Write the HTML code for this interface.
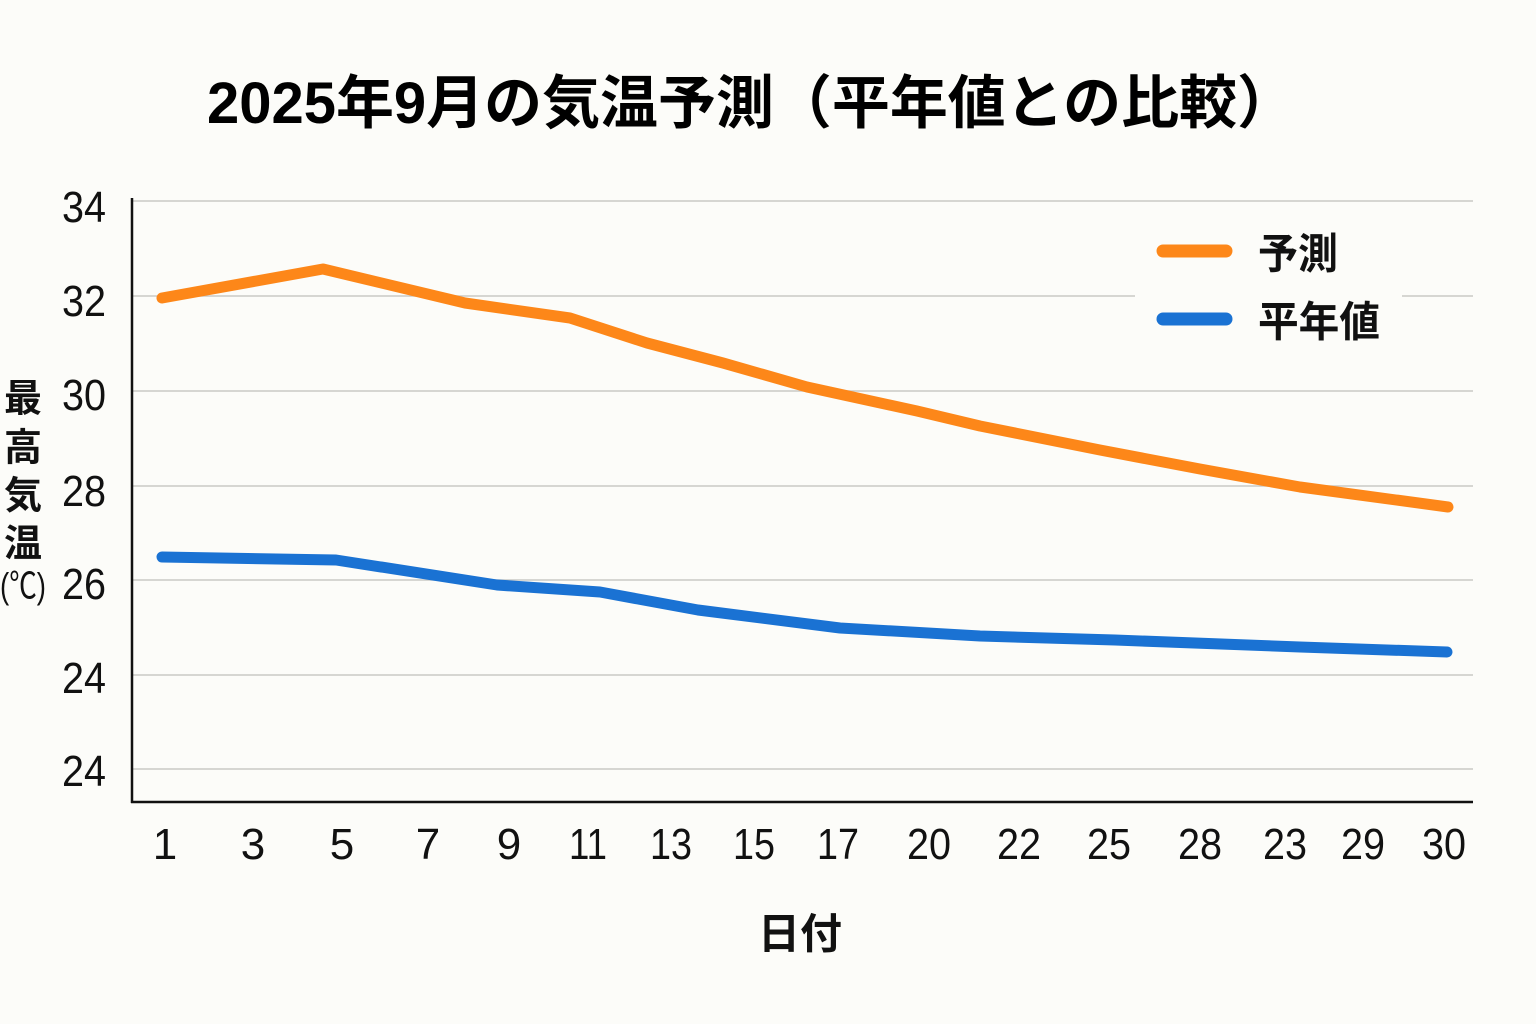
<!DOCTYPE html>
<html>
<head>
<meta charset="utf-8">
<style>
html,body{margin:0;padding:0;background:#fcfcf9;}
svg{display:block;}
</style>
</head>
<body>
<svg width="1536" height="1024" viewBox="0 0 1536 1024" xmlns="http://www.w3.org/2000/svg">
<rect x="0" y="0" width="1536" height="1024" fill="#fcfcf9"/>

<!-- Title -->
<text x="207" y="123" text-anchor="start" font-family="'Liberation Sans','Noto Sans CJK JP',sans-serif" font-weight="bold" font-size="58" fill="#000" textLength="1088" lengthAdjust="spacingAndGlyphs">2025年9月の気温予測（平年値との比較）</text>

<!-- Gridlines -->
<g stroke="#c9c9c6" stroke-width="1.6">
<line x1="133" y1="201" x2="1473" y2="201"/>
<line x1="133" y1="296" x2="1473" y2="296"/>
<line x1="133" y1="391" x2="1473" y2="391"/>
<line x1="133" y1="486" x2="1473" y2="486"/>
<line x1="133" y1="580" x2="1473" y2="580"/>
<line x1="133" y1="675" x2="1473" y2="675"/>
<line x1="133" y1="769" x2="1473" y2="769"/>
</g>

<!-- Legend background -->
<rect x="1135" y="212" width="267" height="135" fill="#fcfcf9"/>

<!-- Axes -->
<line x1="132" y1="198" x2="132" y2="803" stroke="#111" stroke-width="2.5"/>
<line x1="131" y1="802" x2="1473" y2="802" stroke="#111" stroke-width="2.5"/>

<!-- Y tick labels -->
<g font-family="'Liberation Sans',sans-serif" font-size="44" fill="#111" text-anchor="end">
<text x="106" y="222" textLength="44" lengthAdjust="spacingAndGlyphs">34</text>
<text x="106" y="316" textLength="44" lengthAdjust="spacingAndGlyphs">32</text>
<text x="106" y="410" textLength="44" lengthAdjust="spacingAndGlyphs">30</text>
<text x="106" y="506" textLength="44" lengthAdjust="spacingAndGlyphs">28</text>
<text x="106" y="599" textLength="44" lengthAdjust="spacingAndGlyphs">26</text>
<text x="106" y="693" textLength="44" lengthAdjust="spacingAndGlyphs">24</text>
<text x="106" y="786" textLength="44" lengthAdjust="spacingAndGlyphs">24</text>
</g>

<!-- Y axis label -->
<g font-family="'Noto Sans CJK JP',sans-serif" font-weight="bold" font-size="38" fill="#111" text-anchor="middle" dominant-baseline="central">
<text x="23" y="395">最</text>
<text x="23" y="444">高</text>
<text x="23" y="492">気</text>
<text x="23" y="540">温</text>
</g>
<text x="23" y="598" text-anchor="middle" font-family="'Liberation Sans','Noto Sans CJK JP',sans-serif" font-size="36" fill="#111" textLength="46" lengthAdjust="spacingAndGlyphs">(℃)</text>

<!-- X tick labels -->
<g font-family="'Liberation Sans',sans-serif" font-size="44" fill="#111" text-anchor="middle">
<text x="165" y="859">1</text>
<text x="253" y="859">3</text>
<text x="342" y="859">5</text>
<text x="428" y="859">7</text>
<text x="509" y="859">9</text>
<text x="588" y="859" textLength="38" lengthAdjust="spacingAndGlyphs">11</text>
<text x="671" y="859" textLength="42" lengthAdjust="spacingAndGlyphs">13</text>
<text x="754" y="859" textLength="42" lengthAdjust="spacingAndGlyphs">15</text>
<text x="838" y="859" textLength="42" lengthAdjust="spacingAndGlyphs">17</text>
<text x="929" y="859" textLength="44" lengthAdjust="spacingAndGlyphs">20</text>
<text x="1019" y="859" textLength="44" lengthAdjust="spacingAndGlyphs">22</text>
<text x="1109" y="859" textLength="44" lengthAdjust="spacingAndGlyphs">25</text>
<text x="1200" y="859" textLength="44" lengthAdjust="spacingAndGlyphs">28</text>
<text x="1285" y="859" textLength="44" lengthAdjust="spacingAndGlyphs">23</text>
<text x="1363" y="859" textLength="44" lengthAdjust="spacingAndGlyphs">29</text>
<text x="1444" y="859" textLength="44" lengthAdjust="spacingAndGlyphs">30</text>
</g>

<!-- X axis label -->
<text x="800" y="931" text-anchor="middle" dominant-baseline="central" font-family="'Noto Sans CJK JP',sans-serif" font-weight="bold" font-size="42" fill="#111">日付</text>

<!-- Series -->
<polyline fill="none" stroke="#fd8719" stroke-width="11" stroke-linecap="round" stroke-linejoin="round"
 points="162,298 323,269 465,303 570,318 647,343 723,363 807,387 917,411 980,426 1020,434 1100,450 1200,469 1300,487 1448,507"/>
<polyline fill="none" stroke="#1a72d3" stroke-width="11" stroke-linecap="round" stroke-linejoin="round"
 points="162,557 336,560 497,585 600,592 698,610 840,628 980,636 1115,640 1300,647 1447,652"/>

<!-- Legend -->
<line x1="1163" y1="251" x2="1226" y2="251" stroke="#fd8719" stroke-width="13" stroke-linecap="round"/>
<line x1="1163" y1="319" x2="1226" y2="319" stroke="#1a72d3" stroke-width="13" stroke-linecap="round"/>
<g font-family="'Noto Sans CJK JP',sans-serif" font-weight="bold" font-size="42" fill="#111" dominant-baseline="central">
<text x="1258" y="251" textLength="80" lengthAdjust="spacingAndGlyphs">予測</text>
<text x="1258" y="319" textLength="122" lengthAdjust="spacingAndGlyphs">平年値</text>
</g>
</svg>
</body>
</html>
